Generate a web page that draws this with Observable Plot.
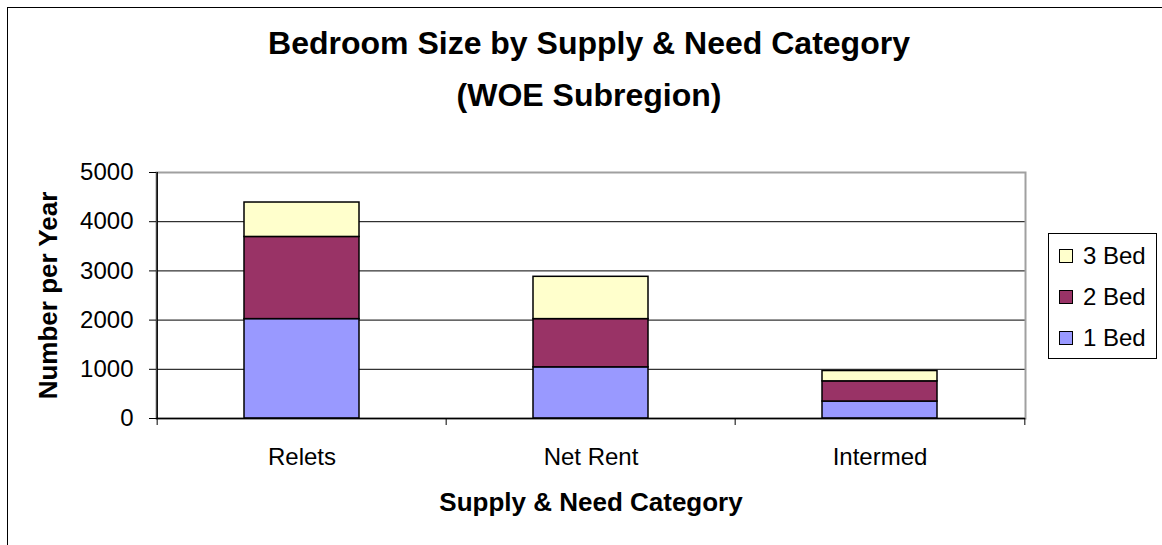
<!DOCTYPE html>
<html><head><meta charset="utf-8">
<script src="https://cdn.jsdelivr.net/npm/d3@7"></script>
<script src="https://cdn.jsdelivr.net/npm/@observablehq/plot@0.6"></script>
<style>
body{margin:0;background:#fff;overflow:hidden}
#wrap{position:relative;width:1162px;height:545px;overflow:hidden;font-family:"Liberation Sans",Arial,sans-serif}
#frame{position:absolute;left:7px;top:7px;width:1200px;height:600px;border:1px solid #000;}
#chart{position:absolute;left:0;top:0}
#legend{position:absolute;left:1048px;top:233px;width:107px;height:124px;border:1px solid #000;background:#fff}
.row{position:absolute;left:10px;height:28px;display:flex;align-items:center;font-size:24px;color:#000}
.sw{width:12px;height:12px;border:1px solid #000;margin-right:10px}
</style></head><body><div id="wrap"><div id="frame"></div><div id="chart"></div><div id="legend"></div></div>
<script>
const categories = ["Relets", "Net Rent", "Intermed"];
const series = ["1 Bed", "2 Bed", "3 Bed"];
const bed1 = [2020, 1040, 345];
const bed2 = [1670, 980, 410];
const bed3 = [700, 860, 210];
const yTicks = [0, 1000, 2000, 3000, 4000, 5000];
const colors = ["#9999FF", "#993366", "#FFFFCC"];
const titleLines = ["Bedroom Size by Supply & Need Category", "(WOE Subregion)"];
const xTitle = "Supply & Need Category";
const yTitle = "Number per Year";

const values = [bed1, bed2, bed3];
const data = series.flatMap((s, si) => categories.map((c, ci) => ({category: c, series: s, value: values[si][ci]})));

const W = 1162, H = 545, mL = 156, mR = 137, mT = 172, mB = 127;
const step = (W - mL - mR) / categories.length;
const font = '"Liberation Sans", Arial, sans-serif';
const last = categories[categories.length - 1];

const chart = Plot.plot({
  width: W, height: H, marginLeft: mL, marginRight: mR, marginTop: mT, marginBottom: mB,
  style: {fontFamily: font, fontSize: "24px", color: "#000", background: "transparent", overflow: "visible"},
  x: {domain: categories, padding: 0, label: null},
  y: {domain: [0, 5000], label: null},
  color: {domain: series, range: colors},
  marks: [
    Plot.ruleY(yTicks.filter(d => d > 0 && d < 5000), {stroke: "#000", strokeWidth: 1}),
    Plot.frame({stroke: "#a0a0a0", strokeWidth: 2}),
    Plot.barY(data, {x: "category", y: "value", fill: "series", stroke: "#000", strokeWidth: 1.5, insetLeft: 87, insetRight: 87}),
    Plot.ruleY([0], {stroke: "#000", strokeWidth: 1.5}),
    Plot.ruleX([categories[0]], {dx: -step / 2, stroke: "#000", strokeWidth: 1.5}),
    Plot.axisY({ticks: yTicks, tickSize: 7, tickPadding: 16, tickFormat: d => String(d), fontSize: 24, label: null}),
    Plot.axisX({tickSize: 0, tickPadding: 29, fontSize: 24, label: null}),
    Plot.ruleX(categories, {dx: -step / 2, y1: 0, y2: 0, insetBottom: -7, stroke: "#000"}),
    Plot.ruleX([last], {dx: step / 2, y1: 0, y2: 0, insetBottom: -7, stroke: "#000"}),
    Plot.text([titleLines[0]], {frameAnchor: "top", dy: 43 - mT, dx: -2, fontSize: 32, fontWeight: "bold", textAnchor: "middle", lineAnchor: "middle"}),
    Plot.text([titleLines[1]], {frameAnchor: "top", dy: 95 - mT, dx: -2, fontSize: 32, fontWeight: "bold", textAnchor: "middle", lineAnchor: "middle"}),
    Plot.text([xTitle], {frameAnchor: "bottom", dy: 502 - (H - mB), fontSize: 26, fontWeight: "bold", textAnchor: "middle", lineAnchor: "middle"}),
    Plot.text([yTitle], {frameAnchor: "left", dx: 48 - mL, rotate: -90, fontSize: 26, fontWeight: "bold", textAnchor: "middle", lineAnchor: "middle"})
  ]
});
document.getElementById("chart").appendChild(chart);

const legend = document.getElementById("legend");
const order = [2, 1, 0];
order.forEach((si, k) => {
  const row = document.createElement("div");
  row.className = "row";
  row.style.top = (8 + k * 41) + "px";
  const sw = document.createElement("div");
  sw.className = "sw";
  sw.style.background = colors[si];
  const t = document.createElement("span");
  t.textContent = series[si];
  row.appendChild(sw);
  row.appendChild(t);
  legend.appendChild(row);
});
</script></body></html>
